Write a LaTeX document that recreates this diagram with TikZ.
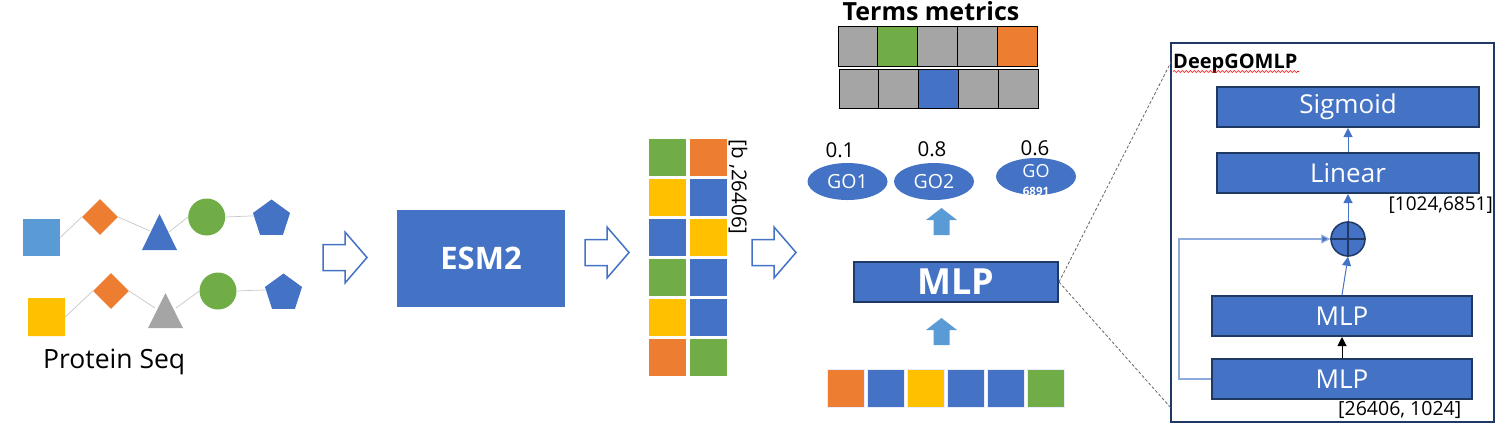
\documentclass[tikz,border=0pt]{standalone}
\usepackage{fontspec}
\setmainfont{Open Sans}
\usetikzlibrary{shapes.geometric,shapes.misc,arrows.meta,decorations.pathmorphing}
\definecolor{cblue}{HTML}{4472C4}
\definecolor{lblue}{HTML}{5B9BD5}
\definecolor{corange}{HTML}{ED7D31}
\definecolor{cgreen}{HTML}{70AD47}
\definecolor{cyellow}{HTML}{FFC000}
\definecolor{cgray}{HTML}{A5A5A5}
\definecolor{navy}{HTML}{1F3864}
\definecolor{skipblue}{HTML}{8FAADC}
\newcommand{\fs}[1]{\fontsize{#1}{#1}\selectfont}
\tikzset{
  cell/.style={minimum width=37, minimum height=37, inner sep=0, fill=#1},
  tcell/.style={minimum width=39.8, minimum height=39.5, inner sep=0, fill=#1, draw=black, line width=1},
  bcell/.style={minimum width=37.5, minimum height=38, inner sep=0, fill=#1, draw=blue!8, line width=0.8},
  link/.style={draw=black!22, line width=0.7},
  harrow/.pic={\draw[cblue, line width=1.5, line join=miter] (0,-13) -- (22,-13) -- (22,-25.5) -- (44,0) -- (22,25.5) -- (22,13) -- (0,13) -- cycle;},
  uparrow/.pic={\fill[lblue] (0,0) -- (15.5,12) -- (8,12) -- (8,27) -- (-8,27) -- (-8,12) -- (-15.5,12) -- cycle;},
  goell/.style={ellipse, fill=cblue, minimum width=80, minimum height=37, inner sep=0, text=white, align=center},
  layer/.style={rectangle, fill=cblue, draw=navy, line width=2, text=white, inner sep=0, font=\fs{26}},
  barrow/.style={draw=cblue, line width=1, -{Triangle[length=9pt,width=9pt]}},
}
\begin{document}
\begin{tikzpicture}[x=1pt,y=-1pt]
\useasboundingbox (0,0) rectangle (1506,432);

% ---------- protein sequences ----------
\node[cell=lblue] (sq) at (41.5,237.5) {};
\node[diamond, aspect=1, minimum size=36, inner sep=0, fill=corange] (d1) at (100,217) {};
\fill[cblue] (142,250) -- (177,250) -- (159.5,214) -- cycle;
\coordinate (t1l) at (150,231);
\coordinate (t1r) at (169,232);
\node[circle, minimum size=37, inner sep=0, fill=cgreen] (c1) at (206.7,217) {};
\node[regular polygon, regular polygon sides=5, minimum size=39, inner sep=0, fill=cblue] (p1) at (271.5,219) {};
\draw[link] (sq.east) -- (d1.west);
\draw[link] (d1.east) -- (t1l);
\draw[link] (t1r) -- (c1.west);
\draw[link] (c1.east) -- (p1.170);

\node[chamfered rectangle, chamfered rectangle xsep=4, chamfered rectangle ysep=4, minimum width=37, minimum height=38, inner sep=0, fill=cyellow] (oct) at (46.5,317) {};
\node[diamond, aspect=1, minimum size=36, inner sep=0, fill=corange] (d2) at (111,291) {};
\fill[cgray] (148,328) -- (183,328) -- (165.5,293) -- cycle;
\coordinate (t2l) at (155,308);
\coordinate (t2r) at (176,308);
\node[circle, minimum size=37, inner sep=0, fill=cgreen] (c2) at (218,291) {};
\node[regular polygon, regular polygon sides=5, minimum size=39, inner sep=0, fill=cblue] (p2) at (283.5,293) {};
\draw[link] (oct.east) -- (d2.west);
\draw[link] (d2.east) -- (t2l);
\draw[link] (t2r) -- (c2.west);
\draw[link] (c2.east) -- (p2.170);

\node[anchor=base west, inner sep=0, font=\fs{26.5}] (ps) at (43,368) {Protein Seq};

% ---------- hollow arrows ----------
\pic at (323,257.5) {harrow};
\pic at (585,252.5) {harrow};
\pic at (752,252.5) {harrow};

% ---------- ESM2 ----------
\node[rectangle, fill=cblue, minimum width=168, minimum height=97, inner sep=0, text=white, font=\bfseries\fs{31}] (esm) at (481,258.5) {ESM2};

% ---------- embedding matrix ----------
\foreach \r/\ca/\cb [count=\i] in {157.5/cgreen/corange, 197.5/cyellow/cblue, 237.5/cblue/cyellow, 277.5/cgreen/cblue, 317.5/cyellow/cblue, 357.5/corange/cgreen}{
  \node[cell=\ca] (m\i a) at (667.5,\r) {};
  \node[cell=\cb] (m\i b) at (708.5,\r) {};
}
\node[rotate=-90, inner sep=0, font=\fs{20.5}] (dim) at (738,187) {[b ,26406]};

% ---------- bottom row ----------
\foreach \xx/\cc [count=\i] in {846/corange, 886/cblue, 926/cyellow, 966/cblue, 1006/cblue, 1046/cgreen}{
  \node[bcell=\cc] (b\i) at (\xx,388) {};
}
\pic at (941.5,318) {uparrow};

% ---------- MLP ----------
\node[rectangle, fill=cblue, draw=navy, line width=2, minimum width=204, minimum height=40, inner sep=0, text=white, font=\bfseries\fs{36}] (mlp) at (956,282) {MLP};
\pic at (941.5,208) {uparrow};

% ---------- GO terms ----------
\node[goell, font=\fs{19.5}] (go1) at (847.5,181.5) {GO1};
\node[goell, font=\fs{19.5}] (go2) at (934,181.5) {GO2};
\node[goell] (go3) at (1036,176.5) {};
\node[anchor=base, inner sep=0, text=white, font=\fs{18}] (go3a) at (1036,177) {GO};
\node[anchor=base, inner sep=0, text=white, font=\bfseries\fs{11.5}] (go3b) at (1036,195) {6891};
\node[anchor=base, inner sep=0, font=\fs{20.5}] (v1) at (840,157) {0.1};
\node[anchor=base, inner sep=0, font=\fs{20.5}] (v2) at (932,156.5) {0.8};
\node[anchor=base, inner sep=0, font=\fs{20.5}] (v3) at (1035,155) {0.6};

% ---------- terms metrics ----------
\node[anchor=base, inner sep=0, font=\bfseries\fs{25}] (tm) at (931,20) {Terms metrics};
\foreach \cc [count=\i] in {cgray, cgreen, cgray, cgray, corange}{
  \node[tcell=\cc] (r1c\i) at ({838+19.9+39.8*(\i-1)},46.5) {};
}
\foreach \cc [count=\i] in {cgray, cgray, cblue, cgray, cgray}{
  \node[tcell=\cc] (r2c\i) at ({839+19.9+39.8*(\i-1)},89) {};
}

% ---------- DeepGOMLP detail ----------
\node[rectangle, draw=navy, line width=2, minimum width=323, minimum height=379, inner sep=0] (dg) at (1332.5,232.5) {};
\node[anchor=base west, inner sep=0, font=\bfseries\fs{20}] (dgt) at (1173,68) {DeepGOMLP};
\draw[red, line width=0.6, decorate, decoration={snake, amplitude=1, segment length=4}] (1173,71.5) -- (1299,71.5);

\node[layer, minimum width=262, minimum height=40] (sig) at (1348,107) {Sigmoid};
\node[layer, minimum width=262, minimum height=40] (lin) at (1348,173) {Linear};
\node[layer, minimum width=260, minimum height=40] (mlpa) at (1342,316) {MLP};
\node[layer, minimum width=260, minimum height=40] (mlpb) at (1342,379) {MLP};
\node[circle, fill=cblue, draw=navy, line width=1.5, minimum size=34, inner sep=0] (plus) at (1348,239) {};
\draw[navy, line width=1.5] (plus.north) -- (plus.south) (plus.west) -- (plus.east);

\node[anchor=base east, inner sep=0, font=\fs{19}] (d1024) at (1493,210) {[1024,6851]};
\node[anchor=base west, inner sep=0, font=\fs{19.5}] (d26406) at (1338,415) {[26406, 1024]};

\draw[barrow] (lin.north) -- (sig.south);
\draw[barrow] (plus.north) -- (lin.south);
\draw[barrow] (mlpa.north) -- (plus.south);
\draw[draw=black, line width=1, -{Triangle[length=9pt,width=9pt]}] (mlpb.north) -- (mlpa.south);
\draw[draw=skipblue, line width=1.2, -{Triangle[length=9pt,width=9pt,fill=cblue]}] (mlpb.west) -- ++(-32,0) |- (plus.west);

% ---------- zoom lines ----------
\coordinate (z1) at (1171,62);
\coordinate (z2) at (1171,408);
\draw[black!60, line width=0.8, dash pattern=on 3 off 2] (mlp.east) -- (z1);
\draw[black!60, line width=0.8, dash pattern=on 3 off 2] (mlp.east) -- (z2);
\end{tikzpicture}
\end{document}
